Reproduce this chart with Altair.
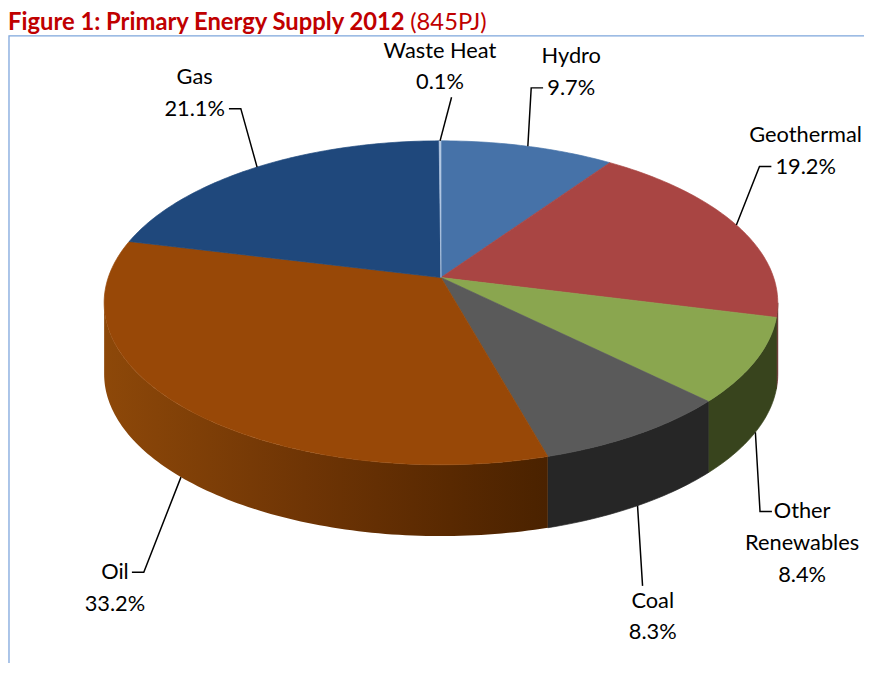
import math
import altair as alt
import pandas as pd

# ---------------- data ----------------
categories = ["Hydro", "Geothermal", "Other Renewables", "Coal", "Oil", "Gas", "Waste Heat"]
shares = [9.7, 19.2, 8.4, 8.3, 33.2, 21.1, 0.1]
label_names = ["Hydro", "Geothermal", "Other\nRenewables", "Coal", "Oil", "Gas", "Waste Heat"]
title_main = "Figure 1: Primary Energy Supply 2012"
title_note = "(845PJ)"

# ---------------- styles ----------------
top_colors = ["#4672a8", "#a94543", "#8aa64f", "#5a5a5a", "#984807", "#1f487c", "#b4c8e4"]
wall_colors = ["#2b4568", "#5e2523", "#38441d", "#262626", "#6e3505", "#13294a", "#6b7d96"]
FONT = "Lato"
FS = 22
LH = 32

# ---------------- layout ----------------
W, H = 864, 655
CX, CY = 437.0, 269.0          # pie centre (px in plot area)
A, B, K = 335.8, 159.5, 0.156  # horizontal / vertical radius, perspective
DEPTH = 72.0
DROP = DEPTH / B


def proj(deg):
    t = math.radians(deg)
    u, v = math.sin(t), math.cos(t)
    d = 1.0 + K * v
    return u / d, v / d


def to_px(X, Y):
    return CX + A * X, CY - B * Y


def to_units(px, py):
    return (px - CX) / A, (CY - py) / B


def arc(a0, a1, step=1.0):
    n = max(1, int(math.ceil((a1 - a0) / step)))
    return [a0 + (a1 - a0) * i / n for i in range(n + 1)]


def text_w(s, size=FS):
    w = 0.0
    for ch in s:
        if ch.isdigit():
            w += 0.56
        elif ch == ".":
            w += 0.25
        elif ch == "%":
            w += 0.76
        elif ch == " ":
            w += 0.25
        elif ch in "il":
            w += 0.23
        elif ch in "mw":
            w += 0.76
        elif ch in "rtf":
            w += 0.34
        elif ch.isupper():
            w += 0.64
        else:
            w += 0.50
    return w * size


total = sum(shares)
starts, ends = [], []
acc = 0.0
for s in shares:
    starts.append(acc / total * 360.0)
    acc += s
    ends.append(acc / total * 360.0)

# top faces
top_rows = []
for i, cat in enumerate(categories):
    pts = [(0.0, 0.0)] + [proj(a) for a in arc(starts[i], ends[i])]
    for j, (x, y) in enumerate(pts):
        top_rows.append({"face": cat, "idx": j, "x": x, "y": y})
top_df = pd.DataFrame(top_rows)

# front walls
theta_r = math.degrees(math.acos(-K))
theta_l = 360.0 - theta_r
wall_rows = []
for i, cat in enumerate(categories):
    a0 = max(starts[i], theta_r)
    a1 = min(ends[i], theta_l)
    if a1 <= a0:
        continue
    upper = [proj(a) for a in arc(a0, a1)]
    lower = [(x, y - DROP) for x, y in reversed(upper)]
    for j, (x, y) in enumerate(upper + lower):
        wall_rows.append({"face": cat, "idx": j, "x": x, "y": y})
wall_df = pd.DataFrame(wall_rows)

# labels and leader lines
label_rows, leader_rows = [], []
for i, cat in enumerate(categories):
    mid = (starts[i] + ends[i]) / 2.0
    s, c = math.sin(math.radians(mid)), math.cos(math.radians(mid))
    front = c < 0
    rx, ry = to_px(*proj(mid))
    if front:
        ry += DEPTH
    lines = label_names[i].split("\n") + [f"{shares[i]:.1f}%"]
    n = len(lines)
    sg = 1 if s > 0 else -1
    side = abs(s) >= (0.55 if front else 0.25)
    if side:
        lx = rx + 80.0 * sg * math.sqrt(abs(s))
    else:
        lx = rx + 30.0 * s
    ly = ry + (112.0 if front else -75.0)      # centre of the text block
    maxw = max(text_w(t) for t in lines)
    lx = min(max(lx, maxw / 2 + 6), W - maxw / 2 - 6)
    half = (n - 1) * LH / 2.0
    first_y = ly - half                          # centre of first line
    if side:
        li = 0 if front else n - 1
        ay = first_y + li * LH
        ex = lx - sg * (text_w(lines[li]) / 2 + 5)
        path = [(rx, ry), (ex - sg * 12, ay), (ex, ay)]
    else:
        ey = ly - (half + 15) if front else ly + (half + 15)
        path = [(rx, ry), (lx - sg * 0.25 * text_w(lines[-1 if not front else 0]), ey)]
    ux, uy = to_units(lx, first_y)
    label_rows.append({"face": cat, "x": ux, "y": uy, "text": "\n".join(lines)})
    for j, (px, py) in enumerate(path):
        qx, qy = to_units(px, py)
        leader_rows.append({"face": cat, "idx": j, "x": qx, "y": qy})
label_df = pd.DataFrame(label_rows)
leader_df = pd.DataFrame(leader_rows)

# ---------------- chart ----------------
xs = alt.Scale(domain=[(0 - CX) / A, (W - CX) / A], nice=False, zero=False)
ys = alt.Scale(domain=[(CY - H) / B, CY / B], nice=False, zero=False)
X = alt.X("x:Q", scale=xs, axis=None)
Y = alt.Y("y:Q", scale=ys, axis=None)

top_scale = alt.Scale(domain=categories, range=top_colors)
wall_scale = alt.Scale(domain=categories, range=wall_colors)

frame = alt.Chart(pd.DataFrame({"a": [0]})).mark_rect(
    filled=False, color="#7ea6dc", strokeWidth=1.3
).encode(x=alt.value(1), y=alt.value(25), x2=alt.value(W + 60), y2=alt.value(H + 60))

walls = alt.Chart(wall_df[wall_df.face != "Oil"]).mark_line(
    filled=True, interpolate="linear-closed", strokeWidth=0.7
).encode(
    x=X, y=Y,
    fill=alt.Fill("face:N", scale=wall_scale, legend=None),
    stroke=alt.Stroke("face:N", scale=wall_scale, legend=None),
    order=alt.Order("idx:Q"),
)

oil_wall = alt.Chart(wall_df[wall_df.face == "Oil"]).mark_line(
    filled=True, interpolate="linear-closed",
    fill=alt.Gradient(
        gradient="linear", x1=0, x2=1, y1=0, y2=0,
        stops=[
            alt.GradientStop(offset=0.0, color="#8d4809"),
            alt.GradientStop(offset=0.45, color="#6f3505"),
            alt.GradientStop(offset=0.78, color="#592901"),
            alt.GradientStop(offset=1.0, color="#4a2200"),
        ],
    ),
).encode(x=X, y=Y, order=alt.Order("idx:Q"))

tops = alt.Chart(top_df).mark_line(
    filled=True, interpolate="linear-closed", strokeWidth=0.7
).encode(
    x=X, y=Y,
    fill=alt.Fill("face:N", scale=top_scale, legend=None),
    stroke=alt.Stroke("face:N", scale=top_scale, legend=None),
    order=alt.Order("idx:Q"),
)

leaders = alt.Chart(leader_df).mark_line(color="#000000", strokeWidth=1.5).encode(
    x=X, y=Y, detail="face:N", order=alt.Order("idx:Q")
)

labels = alt.Chart(label_df).mark_text(
    font=FONT, fontSize=FS, lineBreak="\n", lineHeight=LH,
    align="center", baseline="middle", color="#000000",
).encode(x=X, y=Y, text="text:N")

title1 = alt.Chart(pd.DataFrame({"t": [title_main]})).mark_text(
    font=FONT, fontSize=24, fontWeight="bold", color="#c00000",
    align="left", baseline="alphabetic",
).encode(x=alt.value(0), y=alt.value(19), text="t:N")

title2 = alt.Chart(pd.DataFrame({"t": [title_note]})).mark_text(
    font=FONT, fontSize=24, color="#c00000", align="left", baseline="alphabetic",
).encode(x=alt.value(406), y=alt.value(19), text="t:N")

chart = alt.layer(
    frame, walls, oil_wall, tops, leaders, labels, title1, title2
).resolve_scale(
    fill="independent", stroke="independent"
).properties(
    width=W, height=H, padding=0, autosize=alt.AutoSizeParams(type="none")
).configure_view(stroke=None)

chart.save("out.html", embed_options={"renderer": "svg", "actions": False})
